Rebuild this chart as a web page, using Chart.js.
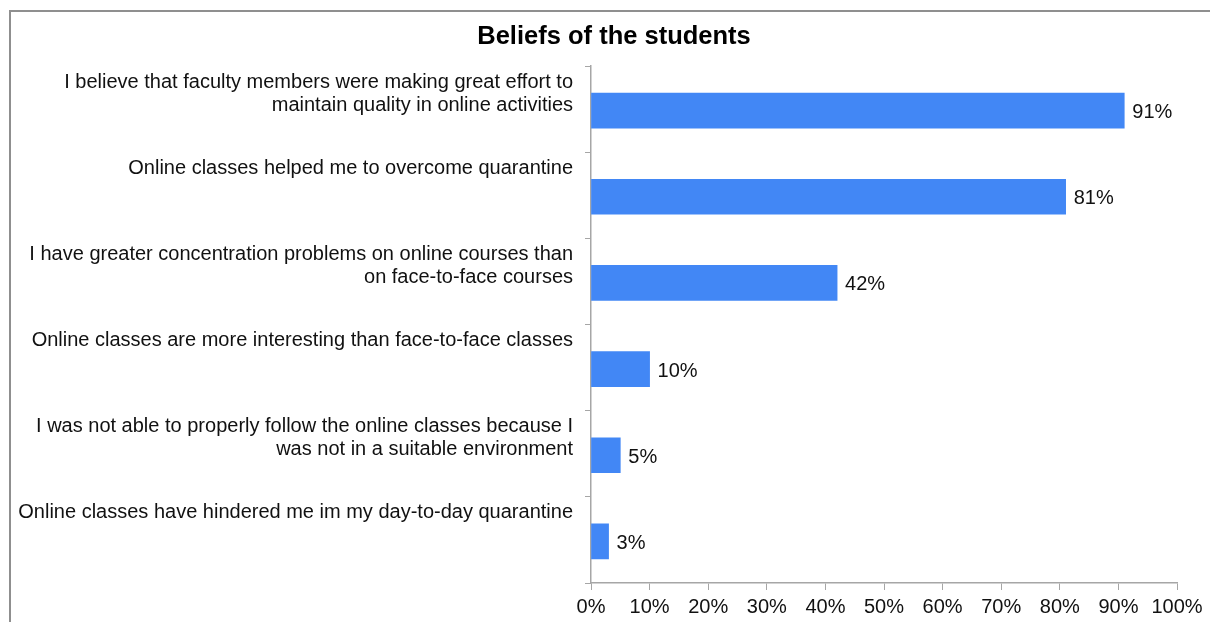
<!DOCTYPE html>
<html>
<head>
<meta charset="utf-8">
<script src="https://cdn.jsdelivr.net/npm/chart.js@4.4.1/dist/chart.umd.min.js"></script>
<style>
  html, body { margin: 0; padding: 0; background: #fff; overflow: hidden; }
  #wrap { position: relative; width: 1210px; height: 622px; }
  #frame { position: absolute; left: 9px; top: 10px; width: 1400px; height: 800px;
           border-left: 2px solid #8f8f8f; border-top: 2px solid #8f8f8f; pointer-events: none; }
</style>
</head>
<body>
<div id="wrap">
  <canvas id="chart" width="1210" height="622"></canvas>
  <div id="frame"></div>
</div>
<script>
const chartTitle = 'Beliefs of the students';

// each label padded to two lines so the text sits at the top of its band
const categories = [
  ['I believe that faculty members were making great effort to', 'maintain quality in online activities'],
  ['Online classes helped me to overcome quarantine', ''],
  ['I have greater concentration problems on online courses than', 'on face-to-face courses'],
  ['Online classes are more interesting than face-to-face classes', ''],
  ['I was not able to properly follow the online classes because I', 'was not in a suitable environment'],
  ['Online classes have hindered me im my day-to-day quarantine', '']
];

const percentages = [91, 81, 42, 10, 5, 3];

const tickLabels = ['0%', '10%', '20%', '30%', '40%', '50%', '60%', '70%', '80%', '90%', '100%'];

const fontFamily = 'Liberation Sans, Arial, sans-serif';
const textFont = { family: fontFamily, size: 20, lineHeight: 1.15 };
const axisGray = '#a6a6a6';

// title is centred over the whole frame, not over the plot, so draw it here
const frameTitle = {
  id: 'frameTitle',
  afterDraw(chart) {
    const ctx = chart.ctx;
    ctx.save();
    ctx.font = `bold 25.5px ${fontFamily}`;
    ctx.fillStyle = '#000';
    ctx.textAlign = 'center';
    ctx.textBaseline = 'middle';
    ctx.fillText(chartTitle, 614, 37);
    ctx.restore();
  }
};

// bars sit a little below the band centre in the original
const barShift = {
  id: 'barShift',
  beforeDatasetsDraw(chart) { chart.ctx.save(); chart.ctx.translate(0, 1.5); },
  afterDatasetsDraw(chart) { chart.ctx.restore(); }
};

const barValueLabels = {
  id: 'barValueLabels',
  afterDatasetsDraw(chart) {
    const ctx = chart.ctx;
    const meta = chart.getDatasetMeta(0);
    ctx.save();
    ctx.font = `${textFont.size}px ${textFont.family}`;
    ctx.fillStyle = '#111';
    ctx.textAlign = 'left';
    ctx.textBaseline = 'middle';
    meta.data.forEach((bar, i) => {
      ctx.fillText(percentages[i] + '%', bar.x + 8, bar.y + 3.5);
    });
    ctx.restore();
  }
};

new Chart(document.getElementById('chart'), {
  type: 'bar',
  data: {
    labels: categories,
    datasets: [{
      data: percentages,
      backgroundColor: '#4287f5',
      borderWidth: 0,
      barThickness: 35
    }]
  },
  options: {
    indexAxis: 'y',
    responsive: false,
    animation: false,
    layout: { padding: { left: 0, right: 33, top: 66, bottom: -2 } },
    plugins: {
      legend: { display: false },
      tooltip: { enabled: false },
      title: { display: false }
    },
    scales: {
      x: {
        min: 0,
        max: 100,
        grid: { drawOnChartArea: false, drawTicks: true, tickLength: 7, color: axisGray },
        border: { display: true, color: axisGray, width: 1.5 },
        ticks: {
          stepSize: 10,
          padding: 7,
          color: '#111',
          font: { family: fontFamily, size: textFont.size, lineHeight: 1 },
          callback: (v, i) => tickLabels[i]
        }
      },
      y: {
        grid: { drawOnChartArea: false, drawTicks: true, tickLength: 6, offset: true, color: axisGray },
        border: { display: true, color: axisGray, width: 1.5 },
        ticks: {
          padding: 12,
          labelOffset: -15.5,
          color: '#111',
          font: textFont
        },
        afterFit(scale) { scale.width = 591; }
      }
    }
  },
  plugins: [barShift, barValueLabels, frameTitle]
});
</script>
</body>
</html>
